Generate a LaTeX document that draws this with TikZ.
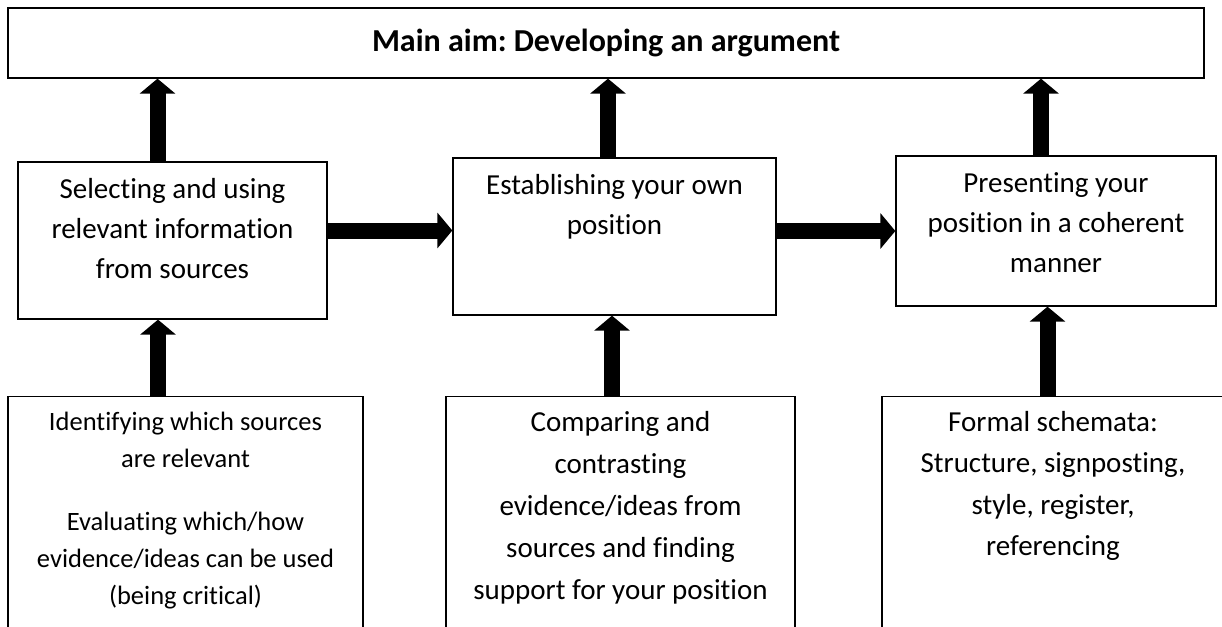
\documentclass[tikz,border=0pt]{standalone}
\usepackage{fontspec}
\setmainfont{Carlito}[Ligatures=NoCommon]
\usetikzlibrary{arrows.meta}
\frenchspacing

\begin{document}
\begin{tikzpicture}[x=1pt,y=-1pt]
\tikzstyle{every node}+=[inner sep=0pt]
\tikzset{
  box/.style={draw,line width=1.3pt},
  boxtext/.style={anchor=north,align=center,font=\fontsize{29}{40}\selectfont},
  fatarrow/.style={line width=16pt,-{Triangle[width=35pt,length=15pt]}}
}
\useasboundingbox (0,0) rectangle (1222,626);
\clip (0,0) rectangle (1222,626);
% aim
\node [box,minimum width=1196pt,minimum height=70pt,font=\bfseries\fontsize{32}{38}\selectfont] (aim) at (606,43) {Main aim: Developing an argument};
% middle row
\node [box,minimum width=309pt,minimum height=157pt] (sel) at (172.5,240.5) {};
\node [box,minimum width=323pt,minimum height=157pt] (est) at (614.5,236.5) {};
\node [box,minimum width=320pt,minimum height=150pt] (pres) at (1056,231) {};
\node [boxtext] (selt) at ([yshift=-17pt]sel.north) {Selecting and using\\relevant information\\from sources};
\node [boxtext] (estt) at ([yshift=-17pt]est.north) {Establishing your own\\position};
\node [boxtext] (prest) at ([yshift=-17pt]pres.north) {Presenting your\\position in a coherent\\manner};
% bottom row
\node [box,minimum width=355pt,minimum height=260pt,anchor=north] (iden) at (185.5,396) {};
\node [box,minimum width=349pt,minimum height=260pt,anchor=north] (comp) at (620.5,396) {};
\node [box,minimum width=342pt,minimum height=260pt,anchor=north] (form) at (1053,396) {};
\node [boxtext,font=\fontsize{26.5}{37}\selectfont] (ident) at ([yshift=-16pt]iden.north) {Identifying which sources\\are relevant\\[26pt]Evaluating which/how\\evidence/ideas can be used\\(being critical)};
\node [boxtext,font=\fontsize{29}{42}\selectfont] (compt) at ([yshift=-15pt]comp.north) {Comparing and\\contrasting\\evidence/ideas from\\sources and finding\\support for your position};
\node [boxtext,font=\fontsize{29}{41.5}\selectfont] (formt) at ([yshift=-15pt]form.north) {Formal schemata:\\Structure, signposting,\\style, register,\\referencing};
% arrows up to the aim
\draw [fatarrow] ([xshift=-15pt]sel.north) -- ([xshift=-15pt]sel.north |- aim.south);
\draw [fatarrow] ([xshift=-6.5pt]est.north) -- ([xshift=-6.5pt]est.north |- aim.south);
\draw [fatarrow] ([xshift=-15pt]pres.north) -- ([xshift=-15pt]pres.north |- aim.south);
% arrows from the bottom row
\draw [fatarrow] ([xshift=-14.5pt]sel.south |- iden.north) -- ([xshift=-14.5pt]sel.south);
\draw [fatarrow] ([xshift=-2.5pt]est.south |- comp.north) -- ([xshift=-2.5pt]est.south);
\draw [fatarrow] ([xshift=-8.5pt]pres.south |- form.north) -- ([xshift=-8.5pt]pres.south);
% arrows across
\draw [fatarrow] ([yshift=10pt]sel.east) -- ([yshift=10pt]sel.east -| est.west);
\draw [fatarrow] ([yshift=5.5pt]est.east) -- ([yshift=5.5pt]est.east -| pres.west);
\end{tikzpicture}
\end{document}
